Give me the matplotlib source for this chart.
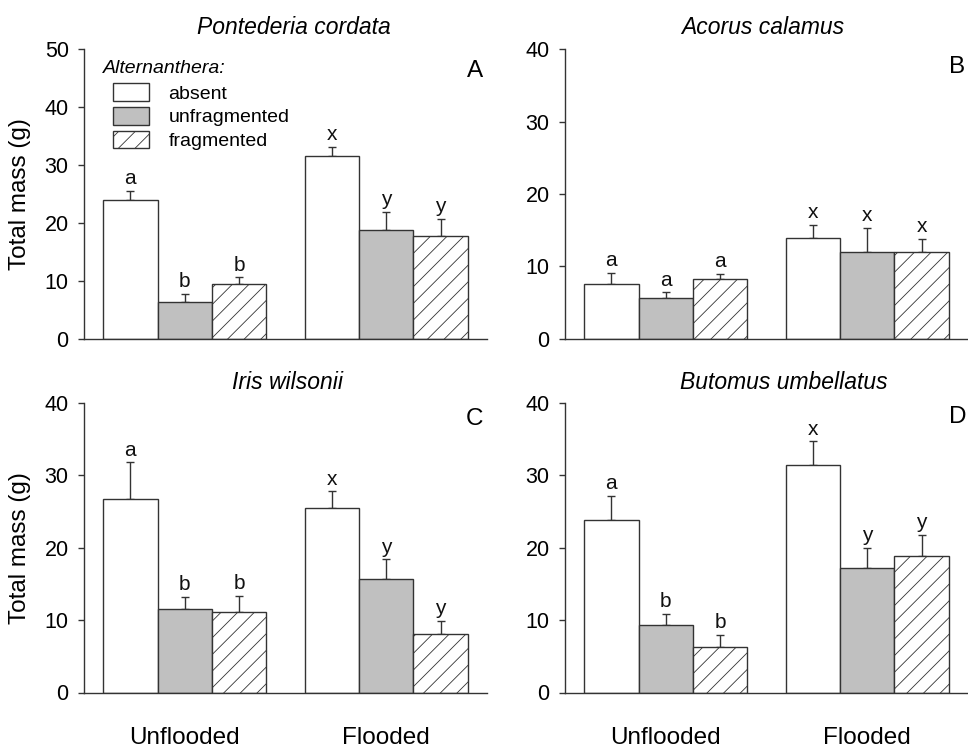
import matplotlib
matplotlib.use('Agg')
import matplotlib.pyplot as plt
from matplotlib.patches import Patch
import numpy as np

plt.rcParams['font.family'] = ['Liberation Sans', 'DejaVu Sans']
plt.rcParams['hatch.linewidth'] = 0.6

groups = ['Unflooded', 'Flooded']
treatments = ['absent', 'unfragmented', 'fragmented']

species = ['Pontederia cordata', 'Acorus calamus', 'Iris wilsonii', 'Butomus umbellatus']
panel_tags = ['A', 'B', 'C', 'D']
y_tops = [50, 40, 40, 40]

# means: rows = Unflooded, Flooded; columns = absent, unfragmented, fragmented
pont_mean = [[24.0, 6.4, 9.4], [31.5, 18.8, 17.7]]
pont_se = [[1.6, 1.3, 1.2], [1.6, 3.1, 3.0]]
pont_lbl = [['a', 'b', 'b'], ['x', 'y', 'y']]

acor_mean = [[7.6, 5.7, 8.2], [13.9, 12.0, 12.0]]
acor_se = [[1.5, 0.7, 0.8], [1.8, 3.3, 1.8]]
acor_lbl = [['a', 'a', 'a'], ['x', 'x', 'x']]

iris_mean = [[26.7, 11.5, 11.1], [25.5, 15.7, 8.1]]
iris_se = [[5.1, 1.7, 2.3], [2.3, 2.7, 1.8]]
iris_lbl = [['a', 'b', 'b'], ['x', 'y', 'y']]

buto_mean = [[23.8, 9.3, 6.3], [31.5, 17.2, 18.9]]
buto_se = [[3.4, 1.6, 1.7], [3.2, 2.8, 2.9]]
buto_lbl = [['a', 'b', 'b'], ['x', 'y', 'y']]

means = [pont_mean, acor_mean, iris_mean, buto_mean]
errs = [pont_se, acor_se, iris_se, buto_se]
letters = [pont_lbl, acor_lbl, iris_lbl, buto_lbl]

edge = '#333333'
fills = ['white', '#c0c0c0', 'white']
hatches = [None, None, '//']
width = 0.27

fig = plt.figure(figsize=(9.68, 7.48), dpi=100)
W, H = 968, 748
ax_boxes = [(84, 49.3), (565, 49.3), (84, 403), (565, 403)]
title_pos = [(0.521, 1.077), (0.491, 1.075), (0.504, 1.070), (0.543, 1.070)]
tag_pos = [(0.95, 0.925), (0.953, 0.94), (0.947, 0.945), (0.953, 0.952)]

axes = []
for k in range(4):
    x0, ytop = ax_boxes[k]
    ax = fig.add_axes([x0 / W, 1 - (ytop + 289.5) / H, 403 / W, 289.5 / H])
    axes.append(ax)
    xg = np.arange(len(groups))
    for g in range(2):
        for t in range(3):
            xb = xg[g] + (t - 1) * width
            v = means[k][g][t]
            e = errs[k][g][t]
            ax.bar(xb, v, width, color=fills[t], edgecolor=edge, linewidth=1.0,
                   hatch=hatches[t], zorder=2)
            ax.errorbar(xb, v, yerr=[[0], [e]], fmt='none', ecolor=edge,
                        elinewidth=1.0, capsize=3, capthick=1.0, zorder=1)
            ax.annotate(letters[k][g][t], (xb, v + e), xytext=(0, 2),
                        textcoords='offset points', ha='center', va='bottom',
                        fontsize=15, color='#111111')
    ax.set_xlim(-0.5, 1.5)
    ax.set_ylim(0, y_tops[k])
    ax.set_yticks(np.arange(0, y_tops[k] + 1, 10))
    ax.tick_params(axis='y', direction='out', length=4, width=1, color=edge,
                   labelsize=15.5, pad=7)
    for s in ['top', 'right']:
        ax.spines[s].set_visible(False)
    for s in ['left', 'bottom']:
        ax.spines[s].set_color(edge)
        ax.spines[s].set_linewidth(1.0)
    if k >= 2:
        ax.set_xticks(xg)
        ax.set_xticklabels(groups, fontsize=17.5)
        ax.tick_params(axis='x', length=0, pad=25)
    else:
        ax.set_xticks([])
    if k % 2 == 0:
        ax.set_ylabel('Total mass (g)', fontsize=17.5, labelpad=10)
    ax.text(title_pos[k][0], title_pos[k][1], species[k], transform=ax.transAxes,
            ha='center', va='center', fontsize=16.5, style='italic')
    ax.text(tag_pos[k][0], tag_pos[k][1], panel_tags[k], transform=ax.transAxes,
            ha='left', va='center', fontsize=17.5, clip_on=False)

# legend in panel A
ax = axes[0]
ax.text(0.047, 0.935, 'Alternanthera:', transform=ax.transAxes, ha='left',
        va='center', fontsize=14, style='italic')
handles = [Patch(facecolor=fills[t], edgecolor=edge, hatch=hatches[t], linewidth=1.0)
           for t in range(3)]
ax.legend(handles, treatments, loc='upper left', bbox_to_anchor=(0.072, 0.882),
          frameon=False, fontsize=14, handlelength=1.85, handleheight=1.0,
          handletextpad=1.0, labelspacing=0.22, borderpad=0, borderaxespad=0)

fig.savefig('out.png', dpi=100)
